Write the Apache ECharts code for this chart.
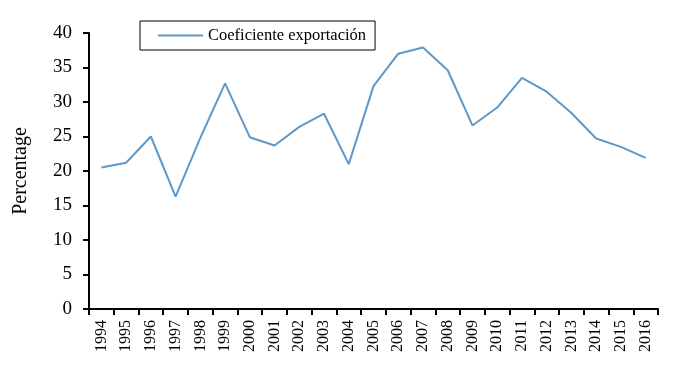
<!DOCTYPE html>
<html>
<head>
<meta charset="utf-8">
<script src="https://cdn.jsdelivr.net/npm/echarts@6/dist/echarts.min.js"></script>
<style>
  html, body { margin: 0; padding: 0; background: #fff; }
  #main { width: 684px; height: 378px; }
</style>
</head>
<body>
<div id="main"></div>
<script>
var years = ['1994', '1995', '1996', '1997', '1998', '1999', '2000', '2001', '2002', '2003', '2004',
  '2005', '2006', '2007', '2008', '2009', '2010', '2011', '2012', '2013', '2014', '2015', '2016'];
var coeficiente = [20.5, 21.2, 25.0, 16.3, 24.8, 32.7, 24.9, 23.7, 26.4, 28.3, 21.0,
  32.3, 37.0, 37.9, 34.6, 26.6, 29.2, 33.5, 31.5, 28.4, 24.7, 23.5, 21.9];
var seriesName = 'Coeficiente exportación';
var yTitle = 'Percentage';

var myChart = echarts.init(document.getElementById('main'));
var serif = 'Liberation Serif';
var option = {
  animation: false,
  textStyle: { fontFamily: serif },
  grid: { left: 89, right: 26, top: 33, bottom: 69 },
  legend: {
    left: 140, top: 21,
    data: [seriesName],
    padding: [6, 9, 6, 17],
    itemGap: 6,
    itemWidth: 45,
    itemHeight: 2,
    borderColor: '#000', borderWidth: 1, borderRadius: 0,
    textStyle: { fontFamily: serif, fontSize: 16.5, color: '#000' }
  },
  xAxis: {
    type: 'category',
    data: years,
    boundaryGap: true,
    axisLine: { lineStyle: { color: '#000', width: 2 } },
    axisTick: { show: true, alignWithLabel: false, length: 6, lineStyle: { color: '#000', width: 2 } },
    axisLabel: { rotate: 90, interval: 0, fontFamily: serif, fontSize: 16, color: '#000', margin: 11 }
  },
  yAxis: {
    type: 'value',
    min: 0, max: 40, interval: 5,
    name: yTitle,
    nameLocation: 'middle',
    nameGap: 58,
    nameTextStyle: { fontFamily: serif, fontSize: 20, color: '#000', padding: [0, 0, 0, 0] },
    splitLine: { show: false },
    axisLine: { show: true, lineStyle: { color: '#000', width: 2 } },
    axisTick: { show: true, length: 6, lineStyle: { color: '#000', width: 2 } },
    axisLabel: { fontFamily: serif, fontSize: 19, color: '#000', margin: 17 }
  },
  series: [{
    name: seriesName,
    type: 'line',
    data: coeficiente,
    showSymbol: false,
    symbol: 'none',
    lineStyle: { color: '#5f98c6', width: 2 },
    itemStyle: { color: '#5f98c6' }
  }]
};
myChart.setOption(option);
</script>
</body>
</html>
